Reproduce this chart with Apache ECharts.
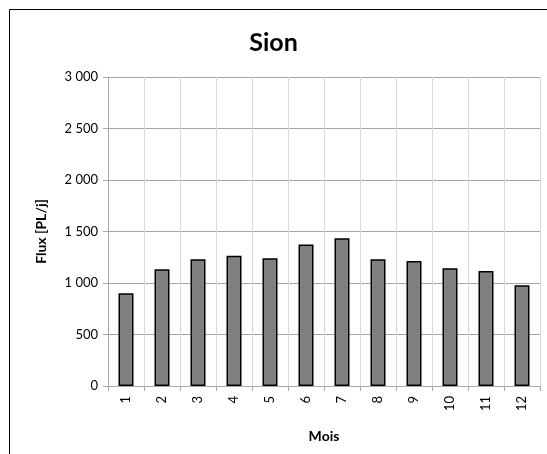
<!DOCTYPE html>
<html>
<head>
<meta charset="utf-8">
<script src="https://cdn.jsdelivr.net/npm/echarts@6/dist/echarts.min.js"></script>
<style>
html,body{margin:0;padding:0;background:#fff;}
#chart{width:547px;height:454px;}
</style>
</head>
<body>
<div id="chart"></div>
<script>
const categories = ['1','2','3','4','5','6','7','8','9','10','11','12'];
const fluxValues = [900, 1133, 1230, 1265, 1240, 1375, 1434, 1230, 1214, 1143, 1117, 978];
const yTicks = [0, 500, 1000, 1500, 2000, 2500, 3000];

const FONT = 'Lato, "Open Sans", sans-serif';
const chart = echarts.init(document.getElementById('chart'), null, {renderer: 'canvas'});
chart.setOption({
  animation: false,
  backgroundColor: '#fff',
  graphic: [{
    type: 'rect',
    shape: {x: 9.5, y: 9.5, width: 620, height: 520},
    style: {fill: 'none', stroke: '#000', lineWidth: 1},
    silent: true
  }],
  title: {
    text: 'Sion',
    left: 'center',
    top: 25,
    textStyle: {fontFamily: FONT, fontSize: 25, fontWeight: 'bold', color: '#000'}
  },
  grid: {left: 108, right: 7, top: 77, bottom: 68},
  xAxis: {
    type: 'category',
    data: categories,
    name: 'Mois',
    nameLocation: 'middle',
    nameGap: 43,
    nameTextStyle: {fontFamily: FONT, fontSize: 14, fontWeight: 'bold', color: '#000'},
    axisLine: {show: true, lineStyle: {color: '#a6a6a6', width: 1}},
    axisTick: {show: true, alignWithLabel: false, length: 5, lineStyle: {color: '#a6a6a6'}},
    axisLabel: {rotate: 90, fontFamily: FONT, fontSize: 13, color: '#000', margin: 10},
    splitLine: {show: true, lineStyle: {color: '#d9d9d9', width: 1}}
  },
  yAxis: {
    type: 'value',
    min: yTicks[0],
    max: yTicks[yTicks.length - 1],
    interval: 500,
    name: 'Flux [PL/j]',
    nameLocation: 'middle',
    nameGap: 60,
    nameRotate: 90,
    nameTextStyle: {fontFamily: FONT, fontSize: 14, fontWeight: 'bold', color: '#000'},
    axisLine: {show: true, lineStyle: {color: '#a6a6a6', width: 1}},
    axisTick: {show: true, length: 5, lineStyle: {color: '#a6a6a6'}},
    axisLabel: {
      fontFamily: FONT, fontSize: 13, color: '#000', margin: 10,
      formatter: v => String(v).replace(/\B(?=(\d{3})+(?!\d))/g, ' ')
    },
    splitLine: {show: true, lineStyle: {color: '#a6a6a6', width: 1}}
  },
  series: [{
    type: 'bar',
    data: fluxValues,
    barWidth: 15,
    itemStyle: {color: '#808080', borderColor: '#000', borderWidth: 1.5}
  }]
});
</script>
</body>
</html>
